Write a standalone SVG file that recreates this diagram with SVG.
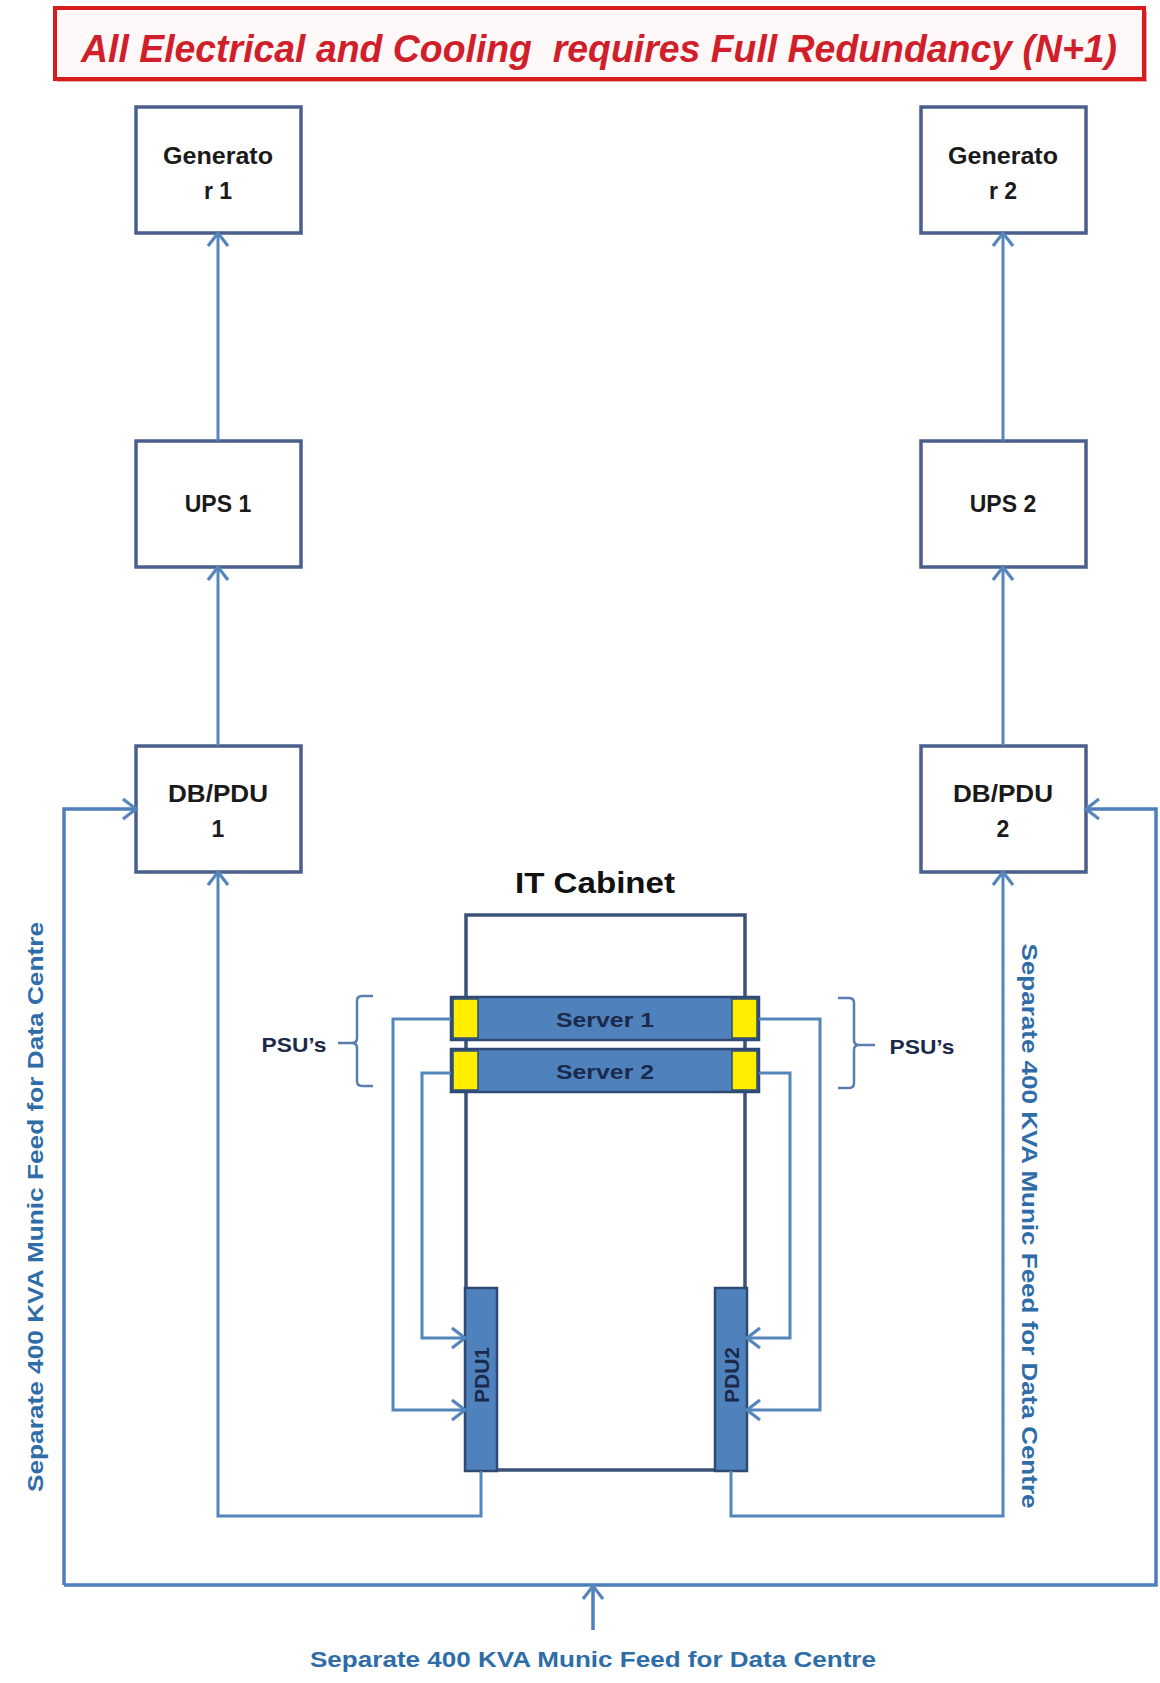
<svg xmlns="http://www.w3.org/2000/svg" width="1160" height="1683" viewBox="0 0 1160 1683">
<defs>
<style>
.box{fill:#ffffff;stroke:#4a5f8c;stroke-width:3.5}
.lbl{font-family:"Liberation Sans",Arial,sans-serif;font-weight:bold;font-size:23px;fill:#1a1a1a;text-anchor:middle}
.conn{fill:none;stroke:#5585bd;stroke-width:3}
.feed{fill:none;stroke:#4d7fbb;stroke-width:3.5}
.cab{fill:none;stroke:#3a5278;stroke-width:3.5}
.srv{fill:#4f81bd;stroke:#2e4a72;stroke-width:2.5}
.psu{fill:#ffee00;stroke:#2e4a72;stroke-width:1.5}
.stxt{font-family:"Liberation Sans",Arial,sans-serif;font-weight:bold;font-size:21px;fill:#1b2a4a;text-anchor:middle}
.blue{font-family:"Liberation Sans",Arial,sans-serif;font-weight:bold;font-size:22px;fill:#2f6da8;text-anchor:middle}
.brace{fill:none;stroke:#5a7db0;stroke-width:2.5;stroke-linejoin:round}
</style>
<marker id="arr" markerUnits="userSpaceOnUse" markerWidth="20" markerHeight="26" viewBox="0 0 20 26" refX="17" refY="13" orient="auto">
<path d="M4,3 L17,13 L4,23" fill="none" stroke="#5585bd" stroke-width="3.2"/>
</marker>
</defs>
<rect width="1160" height="1683" fill="#ffffff"/>

<g id="title">
<rect x="57" y="11" width="1090" height="71" fill="#b01010" opacity="0.35"/>
<rect x="55" y="8" width="1089" height="71" fill="#fff8f8" stroke="#d81c1c" stroke-width="4"/>
<text x="599" y="62" font-family="'Liberation Sans',Arial,sans-serif" font-weight="bold" font-style="italic" font-size="38" fill="#d01f2a" text-anchor="middle" textLength="1036" lengthAdjust="spacingAndGlyphs" xml:space="preserve">All Electrical and Cooling  requires Full Redundancy (N+1)</text>
</g>

<g id="gen1"><rect class="box" x="136" y="107" width="165" height="126"/><text class="lbl" x="218" y="164" textLength="110" lengthAdjust="spacingAndGlyphs">Generato</text><text class="lbl" x="218" y="199">r 1</text></g>
<g id="gen2"><rect class="box" x="921" y="107" width="165" height="126"/><text class="lbl" x="1003" y="164" textLength="110" lengthAdjust="spacingAndGlyphs">Generato</text><text class="lbl" x="1003" y="199">r 2</text></g>
<g id="ups1"><rect class="box" x="136" y="441" width="165" height="126"/><text class="lbl" x="218" y="512">UPS 1</text></g>
<g id="ups2"><rect class="box" x="921" y="441" width="165" height="126"/><text class="lbl" x="1003" y="512">UPS 2</text></g>
<g id="dbpdu1"><rect class="box" x="136" y="746" width="165" height="126"/><text class="lbl" x="218" y="802" textLength="100" lengthAdjust="spacingAndGlyphs">DB/PDU</text><text class="lbl" x="218" y="837">1</text></g>
<g id="dbpdu2"><rect class="box" x="921" y="746" width="165" height="126"/><text class="lbl" x="1003" y="802" textLength="100" lengthAdjust="spacingAndGlyphs">DB/PDU</text><text class="lbl" x="1003" y="837">2</text></g>

<g id="cabinet">
<text x="595" y="893" font-family="'Liberation Sans',Arial,sans-serif" font-weight="bold" font-size="29" fill="#111" text-anchor="middle" textLength="160" lengthAdjust="spacingAndGlyphs">IT Cabinet</text>
<path class="cab" d="M466,1470 V915 H745 V1470 Z"/>
</g>

<g id="server1">
<rect class="srv" x="451" y="997" width="308" height="43"/>
<rect class="psu" x="453" y="999" width="25" height="39"/>
<rect class="psu" x="732" y="999" width="25" height="39"/>
<text class="stxt" x="605" y="1027" textLength="98" lengthAdjust="spacingAndGlyphs">Server 1</text>
</g>
<g id="server2">
<rect class="srv" x="451" y="1049" width="308" height="43"/>
<rect class="psu" x="453" y="1051" width="25" height="39"/>
<rect class="psu" x="732" y="1051" width="25" height="39"/>
<text class="stxt" x="605" y="1079" textLength="98" lengthAdjust="spacingAndGlyphs">Server 2</text>
</g>

<g id="pdu1">
<rect class="srv" x="465" y="1288" width="32" height="183"/>
<text class="stxt" transform="translate(489,1375) rotate(-90)">PDU1</text>
</g>
<g id="pdu2">
<rect class="srv" x="715" y="1288" width="32" height="183"/>
<text class="stxt" transform="translate(739,1375) rotate(-90)">PDU2</text>
</g>

<g id="psu-left">
<path class="brace" d="M373,996 H362 Q357,996 357,1001 V1038 Q357,1043 352,1043 Q357,1043 357,1048 V1081 Q357,1086 362,1086 H373 M338,1043 H352"/>
<text class="stxt" x="294" y="1052" textLength="65" lengthAdjust="spacingAndGlyphs">PSU’s</text>
</g>
<g id="psu-right">
<path class="brace" d="M838,998 H849 Q854,998 854,1003 V1040 Q854,1045 859,1045 Q854,1045 854,1050 V1083 Q854,1088 849,1088 H838 M859,1045 H875"/>
<text class="stxt" x="922" y="1054" textLength="65" lengthAdjust="spacingAndGlyphs">PSU’s</text>
</g>

<g id="connectors">
<path class="conn" d="M218,746 V567" marker-end="url(#arr)"/>
<path class="conn" d="M218,441 V233" marker-end="url(#arr)"/>
<path class="conn" d="M1003,746 V567" marker-end="url(#arr)"/>
<path class="conn" d="M1003,441 V233" marker-end="url(#arr)"/>
<path class="conn" d="M451,1019 H393 V1410 H465" marker-end="url(#arr)"/>
<path class="conn" d="M451,1073 H422 V1338 H465" marker-end="url(#arr)"/>
<path class="conn" d="M759,1019 H820 V1410 H747" marker-end="url(#arr)"/>
<path class="conn" d="M759,1073 H790 V1338 H747" marker-end="url(#arr)"/>
<path class="conn" d="M481,1471 V1516 H218 V872" marker-end="url(#arr)"/>
<path class="conn" d="M731,1471 V1516 H1003 V872" marker-end="url(#arr)"/>
<path class="feed" d="M64,1585 V809 H136" marker-end="url(#arr)"/>
<path class="feed" d="M64,1585 H1156 V809 H1086" marker-end="url(#arr)"/>
<path class="feed" d="M593,1630 V1586" marker-end="url(#arr)"/>
</g>

<text class="blue" x="593" y="1667" textLength="566" lengthAdjust="spacingAndGlyphs">Separate 400 KVA Munic Feed for Data Centre</text>
<text class="blue" transform="translate(43,1207) rotate(-90)" textLength="570" lengthAdjust="spacingAndGlyphs">Separate 400 KVA Munic Feed for Data Centre</text>
<text class="blue" transform="translate(1022,1226) rotate(90)" textLength="565" lengthAdjust="spacingAndGlyphs">Separate 400 KVA Munic Feed for Data Centre</text>
</svg>
